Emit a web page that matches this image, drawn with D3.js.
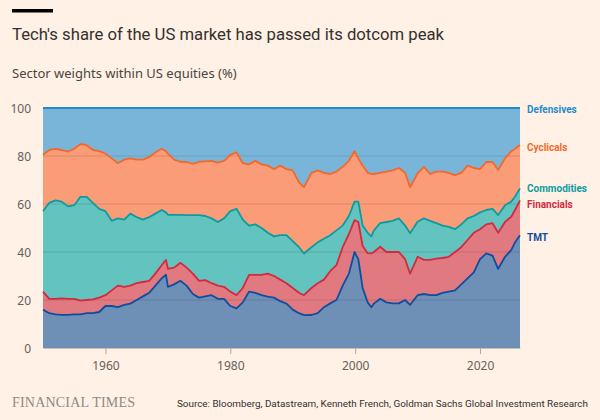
<!DOCTYPE html>
<html>
<head>
<meta charset="utf-8">
<script src="https://cdn.jsdelivr.net/npm/d3@7"></script>
<style>
  body { margin: 0; background: #fff1e5; }
  svg { display: block; font-family: Roboto, "Noto Sans", sans-serif; }
</style>
</head>
<body>
<svg id="chart" width="600" height="420"></svg>
<script>
// sector weights, % of US equities
const years = [1950, 1951, 1952, 1953, 1954, 1955, 1956, 1957, 1958, 1959,
  1960, 1961, 1962, 1963, 1964, 1965, 1966, 1967, 1968, 1969, 1969.7,
  1970, 1971, 1972, 1973, 1974, 1975, 1976, 1977, 1978, 1979,
  1980, 1981, 1982, 1983, 1984, 1985, 1986, 1987, 1988, 1989,
  1990, 1991, 1991.8, 1993, 1994, 1995, 1996, 1997, 1998, 1999, 1999.9,
  2000.5, 2001.2, 2002, 2002.6, 2003, 2004, 2005, 2006, 2007, 2008, 2008.8,
  2010, 2011, 2012, 2013, 2014, 2015, 2016, 2017, 2018, 2019,
  2020, 2021, 2022, 2022.9, 2024, 2025, 2025.6, 2026.4];

const tmt = [16, 14.5, 14, 13.8, 13.8, 14, 14, 14.5, 14.5, 15,
  17.5, 17.5, 17, 18, 18.5, 20, 21.5, 23, 26, 29, 30.5,
  25.5, 26.5, 28, 26, 22.5, 21, 21.5, 22, 20.5, 20.5,
  17.5, 16.5, 19, 23.5, 23, 22, 21.4, 21, 19.5, 18.5,
  16, 14.5, 13.7, 13.75, 14.5, 17, 18.6, 20, 26, 31, 40,
  37, 25, 19, 17, 18.5, 20.5, 19, 18.6, 18.6, 20, 18,
  22, 22.5, 22, 22, 23, 23.5, 24, 26.5, 29, 31.5,
  37, 39.4, 38.5, 33, 38, 40.8, 44, 47];

const financials = [7.5, 6, 6.5, 6.9, 6.7, 6.5, 5.7, 5.5, 5.8, 6,
  4.5, 6.5, 9, 7.5, 7.5, 7, 6, 5, 5, 5.5, 6.2,
  7.5, 7, 7.5, 7.5, 8.5, 7, 6.8, 5, 5.5, 5,
  6, 5.5, 6, 7, 7.5, 8.5, 9.6, 9, 9, 8.5,
  9, 8.5, 8.3, 11.25, 12.5, 11.5, 13.4, 14.5, 16, 16.5, 13.3,
  15.5, 17.5, 20.5, 22.4, 21.5, 21.7, 21, 21.4, 21.4, 17, 13,
  16, 14.2, 14.7, 15.2, 14.5, 14.5, 16, 15.5, 16, 16.5,
  12.5, 12.1, 13.5, 15, 14.5, 13.9, 13.5, 14.5];

const commodities = [33.5, 40, 41, 40.3, 38.5, 39, 43.3, 43, 40.2, 37,
  35, 29, 28, 28, 30, 27.5, 26, 26.5, 25, 23, 19.8,
  22.5, 22, 20, 21.9, 24.4, 27.4, 26.7, 27, 26.5, 28.5,
  33.5, 36, 28.5, 20.5, 21, 19.5, 17, 16.5, 18.5, 20,
  19.5, 19, 17.4, 17, 17, 17, 15, 14.5, 9, 7.5, 7.7,
  8.5, 8.5, 8.5, 7.1, 9, 9.8, 12.5, 13, 14, 14, 16.8,
  14.6, 17.3, 16.3, 14.8, 13.5, 12.5, 9.5, 9.5, 9, 7,
  7, 6, 6, 7.4, 7, 6.3, 5.5, 5];

const cyclicals = [23.5, 22, 21.5, 21.5, 22.8, 23.5, 22, 21.5, 22, 24,
  24, 26, 23, 25, 23, 24, 25, 25, 25.5, 25.5, 25.5,
  25.5, 23, 22.1, 22.1, 21.3, 22.2, 22.8, 24, 24.7, 24,
  23.5, 23.5, 23.5, 25.5, 26.5, 26.5, 28, 28, 29, 27.5,
  29.5, 27, 27.6, 31, 30, 27.5, 25.5, 24.5, 24.5, 23, 21,
  18, 25, 25, 26, 23.5, 21, 21, 21, 21, 22, 19.2,
  20.2, 21.5, 19.5, 21.5, 22.5, 22.5, 22.5, 21.5, 22, 20,
  18, 20, 19.5, 18.8, 19.5, 21, 20, 18.1];

const defensives = [19.5, 17.5, 17, 17.5, 18.2, 17, 15, 15.5, 17.5, 18,
  19, 21, 23, 21.5, 21, 21.5, 21.5, 20.5, 18.5, 17, 18,
  19, 21.5, 22.4, 22.5, 23.3, 22.4, 22.2, 22, 22.8, 22,
  19.5, 18.5, 23, 23.5, 22, 23.5, 24, 25.5, 24, 25.5,
  26, 31, 33, 27, 26, 27, 27.5, 26.5, 24.5, 22, 18,
  21, 24, 27, 27.5, 27.5, 27, 26.5, 26, 25, 27, 33,
  27.2, 24.5, 27.5, 26.5, 26.5, 27, 28, 27, 24, 25,
  25.5, 22.5, 22.5, 25.8, 21, 18, 17, 15.4];

const sectors = ["TMT", "Financials", "Commodities", "Cyclicals", "Defensives"];
const yTicks = [0, 20, 40, 60, 80, 100];
const xTicks = [1960, 1980, 2000, 2020];

const fills = {
  TMT: "#6e8fb6", Financials: "#e07a80", Commodities: "#63c3be",
  Cyclicals: "#f99c77", Defensives: "#79b5d9"
};
const strokes = {
  TMT: "#0f4e9e", Financials: "#d4293f", Commodities: "#0c9ca0",
  Cyclicals: "#f4692b", Defensives: "#1f8bcc"
};
const labelY = { TMT: 237, Financials: 204, Commodities: 188, Cyclicals: 147, Defensives: 109 };

const rows = years.map((yr, i) => ({
  year: yr,
  TMT: tmt[i],
  Financials: financials[i],
  Commodities: commodities[i],
  Cyclicals: cyclicals[i],
  Defensives: defensives[i]
}));

const svg = d3.select("#chart");
const margin = { top: 108, right: 80, bottom: 72, left: 43 };
const W = 600, H = 420;

const x = d3.scaleLinear()
  .domain([1950, 2026.4])
  .range([margin.left, W - margin.right]);
const y = d3.scaleLinear()
  .domain([0, 100])
  .range([H - margin.bottom, margin.top]);

const stacked = d3.stack().keys(sectors)(rows);

// top black bar + headings
svg.append("rect").attr("x", 12).attr("y", 9).attr("width", 41).attr("height", 3.5).attr("fill", "#000");
svg.append("text").attr("x", 12).attr("y", 40)
  .attr("font-size", 16.7).attr("fill", "#33302e")
  .text("Tech's share of the US market has passed its dotcom peak");
svg.append("text").attr("x", 12).attr("y", 78)
  .attr("font-family", "Noto Sans, sans-serif")
  .attr("font-size", 13).attr("fill", "#4a4542")
  .text("Sector weights within US equities (%)");

// areas
const area = d3.area()
  .x(d => x(d.data.year))
  .y0(d => y(d[0]))
  .y1(d => y(d[1]));

svg.append("g").selectAll("path")
  .data(stacked)
  .enter().append("path")
  .attr("d", area)
  .attr("fill", d => fills[d.key]);

// gridlines above the fills
svg.append("g").selectAll("line")
  .data(yTicks.filter(t => t > 0 && t < 100))
  .enter().append("line")
  .attr("x1", x(1950)).attr("x2", x(2026.4))
  .attr("y1", d => y(d)).attr("y2", d => y(d))
  .attr("stroke", "rgba(60,40,30,0.15)")
  .attr("stroke-width", 1);

// boundary lines
const line = d3.line()
  .x(d => x(d.data.year))
  .y(d => y(d[1]));

svg.append("g").selectAll("path")
  .data(stacked)
  .enter().append("path")
  .attr("d", line)
  .attr("fill", "none")
  .attr("stroke", d => strokes[d.key])
  .attr("stroke-width", 1.8)
  .attr("stroke-linejoin", "round");

// y axis labels
svg.append("g").selectAll("text")
  .data(yTicks)
  .enter().append("text")
  .attr("x", 31).attr("y", d => y(d) + 4.5)
  .attr("text-anchor", "end")
  .attr("font-family", "Noto Sans, sans-serif")
  .attr("font-size", 12).attr("fill", "#66605c")
  .text(d => d);

// x axis
const xAxis = svg.append("g")
  .attr("transform", `translate(0,${y(0)})`)
  .call(d3.axisBottom(x).tickValues(xTicks).tickFormat(d3.format("d")).tickSize(6).tickSizeOuter(0));
xAxis.select(".domain").attr("stroke", "#c9bdb3");
xAxis.selectAll(".tick line").attr("stroke", "#b3a89f");
xAxis.selectAll(".tick text")
  .attr("font-family", "Noto Sans, sans-serif")
  .attr("font-size", 12).attr("fill", "#66605c").attr("dy", "1.05em");

// series labels at the right
svg.append("g").selectAll("text")
  .data(sectors)
  .enter().append("text")
  .attr("x", 527).attr("y", d => labelY[d] + 3.8)
  .attr("font-size", 10).attr("font-weight", 700)
  .attr("fill", d => strokes[d])
  .text(d => d);

// footer
svg.append("text").attr("x", 12).attr("y", 407)
  .attr("font-family", "Liberation Serif, DejaVu Serif, serif")
  .attr("font-size", 14).attr("fill", "#8f8a86").attr("letter-spacing", 0.2)
  .text("FINANCIAL TIMES");
svg.append("text").attr("x", 177).attr("y", 407)
  .attr("font-size", 9.9).attr("fill", "#33302e")
  .text("Source: Bloomberg, Datastream, Kenneth French, Goldman Sachs Global Investment Research");
</script>
</body>
</html>
